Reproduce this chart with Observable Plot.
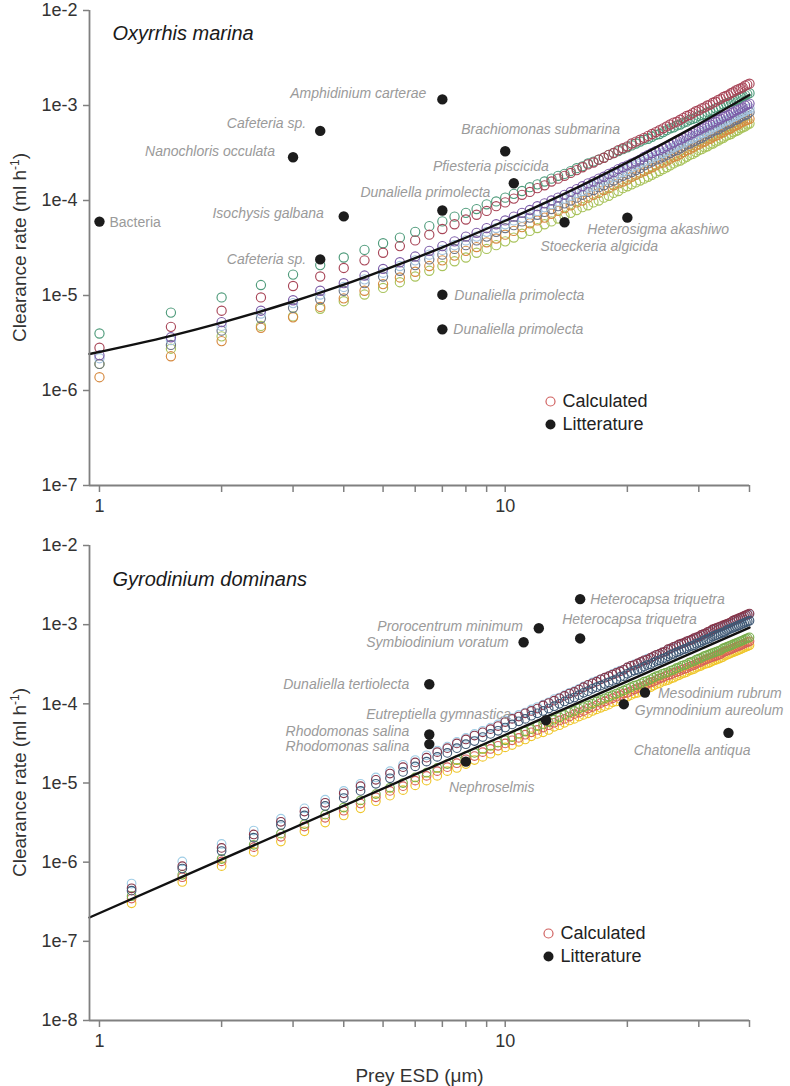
<!DOCTYPE html>
<html><head><meta charset="utf-8">
<script src="https://cdn.jsdelivr.net/npm/d3@7"></script>
<script src="https://cdn.jsdelivr.net/npm/@observablehq/plot@0.6"></script>
<style>
html,body{margin:0;padding:0;background:#fff;}
#chart{width:790px;}
#chart svg{display:block;}
</style></head><body><div id="chart"></div>
<script>
// ---------------- DATA ----------------
// Prey ESD (µm) grids of the calculated clearance rates
const xTop = [1,1.5,2,2.5,3,3.5,4,4.5,5,5.5,6,6.5,7,7.5,8,8.5,9,9.5,10,10.5,11,11.5,12,12.5,13,13.5,14,14.5,15,15.5,16,16.5,17,17.5,18,18.5,19,19.5,20,20.5,21,21.5,22,22.5,23,23.5,24,24.5,25,25.5,26,26.5,27,27.5,28,28.5,29,29.5,30,30.5,31,31.5,32,32.5,33,33.5,34,34.5,35,35.5,36,36.5,37,37.5,38,38.5,39,39.5,40];
const xBot = [1.2,1.6,2.0,2.4,2.8,3.2,3.6,4.0,4.4,4.8,5.2,5.6,6.0,6.4,6.8,7.2,7.6,8.0,8.4,8.8,9.2,9.6,10.0,10.4,10.8,11.2,11.6,12.0,12.4,12.8,13.2,13.6,14.0,14.4,14.8,15.2,15.6,16.0,16.4,16.8,17.2,17.6,18.0,18.4,18.8,19.2,19.6,20.0,20.4,20.8,21.2,21.6,22.0,22.4,22.8,23.2,23.6,24.0,24.4,24.8,25.2,25.6,26.0,26.4,26.8,27.2,27.6,28.0,28.4,28.8,29.2,29.6,30.0,30.4,30.8,31.2,31.6,32.0,32.4,32.8,33.2,33.6,34.0,34.4,34.8,35.2,35.6,36.0,36.4,36.8,37.2,37.6,38.0,38.4,38.8,39.2,39.6,40.0];

// Oxyrrhis marina – calculated clearance rates, log10(ml h-1)
const topLightGreen = [-5.72,-5.56,-5.43,-5.32,-5.22,-5.14,-5.06,-4.99,-4.92,-4.86,-4.80,-4.74,-4.69,-4.64,-4.60,-4.55,-4.51,-4.47,-4.43,-4.39,-4.35,-4.32,-4.29,-4.25,-4.22,-4.19,-4.16,-4.13,-4.10,-4.07,-4.05,-4.02,-4.00,-3.97,-3.95,-3.92,-3.90,-3.87,-3.85,-3.83,-3.81,-3.79,-3.77,-3.75,-3.73,-3.71,-3.69,-3.67,-3.65,-3.63,-3.61,-3.59,-3.58,-3.56,-3.54,-3.52,-3.51,-3.49,-3.47,-3.46,-3.44,-3.43,-3.41,-3.40,-3.38,-3.37,-3.35,-3.34,-3.32,-3.31,-3.30,-3.28,-3.27,-3.26,-3.24,-3.23,-3.22,-3.20,-3.19];
const topOrange = [-5.86,-5.64,-5.48,-5.34,-5.23,-5.12,-5.03,-4.95,-4.88,-4.81,-4.75,-4.69,-4.63,-4.58,-4.53,-4.49,-4.44,-4.40,-4.36,-4.32,-4.28,-4.24,-4.21,-4.18,-4.14,-4.11,-4.08,-4.05,-4.02,-4.00,-3.97,-3.94,-3.92,-3.89,-3.87,-3.84,-3.82,-3.80,-3.78,-3.75,-3.73,-3.71,-3.69,-3.67,-3.65,-3.63,-3.61,-3.60,-3.58,-3.56,-3.54,-3.53,-3.51,-3.49,-3.47,-3.46,-3.44,-3.42,-3.41,-3.39,-3.38,-3.36,-3.35,-3.33,-3.32,-3.31,-3.29,-3.28,-3.26,-3.25,-3.24,-3.22,-3.21,-3.20,-3.18,-3.17,-3.16,-3.15,-3.14];
const topGray = [-5.72,-5.52,-5.37,-5.24,-5.13,-5.04,-4.95,-4.87,-4.80,-4.74,-4.68,-4.62,-4.57,-4.51,-4.47,-4.42,-4.38,-4.33,-4.29,-4.26,-4.22,-4.18,-4.15,-4.12,-4.09,-4.06,-4.03,-4.00,-3.97,-3.94,-3.91,-3.89,-3.86,-3.84,-3.81,-3.79,-3.76,-3.74,-3.72,-3.70,-3.68,-3.66,-3.63,-3.61,-3.59,-3.57,-3.56,-3.54,-3.52,-3.50,-3.48,-3.47,-3.45,-3.43,-3.41,-3.40,-3.38,-3.37,-3.35,-3.34,-3.32,-3.30,-3.29,-3.27,-3.26,-3.25,-3.23,-3.22,-3.20,-3.19,-3.18,-3.16,-3.15,-3.14,-3.12,-3.11,-3.10,-3.09,-3.07];
const topLightBlue = [-5.66,-5.47,-5.32,-5.19,-5.08,-4.99,-4.91,-4.83,-4.76,-4.69,-4.63,-4.57,-4.52,-4.47,-4.42,-4.38,-4.33,-4.29,-4.25,-4.21,-4.18,-4.14,-4.11,-4.07,-4.04,-4.01,-3.98,-3.95,-3.92,-3.90,-3.87,-3.85,-3.82,-3.79,-3.77,-3.75,-3.72,-3.70,-3.68,-3.65,-3.63,-3.61,-3.59,-3.57,-3.55,-3.53,-3.52,-3.50,-3.48,-3.46,-3.44,-3.42,-3.41,-3.39,-3.37,-3.35,-3.34,-3.32,-3.31,-3.29,-3.28,-3.26,-3.25,-3.23,-3.22,-3.20,-3.19,-3.17,-3.16,-3.15,-3.13,-3.12,-3.11,-3.09,-3.08,-3.07,-3.06,-3.04,-3.03];
const topPurple = [-5.63,-5.44,-5.28,-5.16,-5.05,-4.95,-4.87,-4.79,-4.72,-4.65,-4.59,-4.53,-4.48,-4.43,-4.38,-4.34,-4.29,-4.25,-4.21,-4.17,-4.13,-4.10,-4.06,-4.03,-4.00,-3.97,-3.94,-3.91,-3.88,-3.85,-3.82,-3.80,-3.77,-3.75,-3.72,-3.70,-3.67,-3.65,-3.63,-3.61,-3.59,-3.57,-3.54,-3.52,-3.50,-3.48,-3.47,-3.45,-3.43,-3.41,-3.39,-3.37,-3.36,-3.34,-3.32,-3.31,-3.29,-3.27,-3.26,-3.24,-3.23,-3.21,-3.20,-3.18,-3.17,-3.15,-3.14,-3.12,-3.11,-3.10,-3.08,-3.07,-3.05,-3.04,-3.03,-3.02,-3.00,-2.99,-2.98];
const topGreen = [-5.40,-5.18,-5.02,-4.89,-4.78,-4.68,-4.60,-4.52,-4.45,-4.39,-4.33,-4.27,-4.22,-4.17,-4.13,-4.09,-4.04,-4.01,-3.97,-3.93,-3.90,-3.86,-3.83,-3.80,-3.77,-3.74,-3.72,-3.69,-3.66,-3.64,-3.61,-3.59,-3.57,-3.55,-3.52,-3.50,-3.48,-3.46,-3.44,-3.42,-3.40,-3.38,-3.36,-3.35,-3.33,-3.31,-3.30,-3.28,-3.26,-3.24,-3.23,-3.21,-3.20,-3.18,-3.17,-3.15,-3.14,-3.13,-3.11,-3.10,-3.09,-3.07,-3.06,-3.05,-3.03,-3.02,-3.01,-2.99,-2.98,-2.97,-2.96,-2.95,-2.94,-2.93,-2.91,-2.90,-2.89,-2.88,-2.87];
const topRed = [-5.55,-5.33,-5.16,-5.02,-4.90,-4.80,-4.71,-4.63,-4.55,-4.48,-4.42,-4.36,-4.30,-4.25,-4.20,-4.15,-4.11,-4.06,-4.02,-3.98,-3.94,-3.91,-3.87,-3.84,-3.80,-3.77,-3.74,-3.71,-3.68,-3.65,-3.62,-3.60,-3.57,-3.55,-3.52,-3.50,-3.47,-3.45,-3.43,-3.40,-3.38,-3.36,-3.34,-3.32,-3.30,-3.28,-3.26,-3.24,-3.22,-3.20,-3.18,-3.17,-3.15,-3.13,-3.11,-3.10,-3.08,-3.06,-3.05,-3.03,-3.02,-3.00,-2.99,-2.97,-2.96,-2.94,-2.93,-2.91,-2.90,-2.89,-2.87,-2.86,-2.84,-2.83,-2.82,-2.81,-2.79,-2.78,-2.77];

// Gyrodinium dominans – calculated clearance rates, log10(ml h-1)
const botYellow = [-6.52,-6.25,-6.05,-5.87,-5.74,-5.61,-5.50,-5.41,-5.32,-5.23,-5.16,-5.09,-5.03,-4.97,-4.91,-4.85,-4.81,-4.76,-4.71,-4.67,-4.63,-4.59,-4.55,-4.52,-4.48,-4.45,-4.41,-4.38,-4.36,-4.33,-4.29,-4.27,-4.24,-4.21,-4.19,-4.16,-4.14,-4.12,-4.09,-4.07,-4.05,-4.03,-4.01,-3.98,-3.97,-3.94,-3.93,-3.91,-3.89,-3.87,-3.86,-3.84,-3.82,-3.80,-3.79,-3.77,-3.75,-3.74,-3.72,-3.71,-3.70,-3.68,-3.67,-3.65,-3.64,-3.62,-3.61,-3.60,-3.58,-3.57,-3.56,-3.54,-3.53,-3.52,-3.50,-3.495,-3.487,-3.476,-3.46,-3.45,-3.44,-3.43,-3.42,-3.41,-3.39,-3.38,-3.37,-3.36,-3.35,-3.34,-3.33,-3.32,-3.31,-3.30,-3.29,-3.28,-3.27,-3.26];
const botRed = [-6.46,-6.19,-5.99,-5.81,-5.68,-5.55,-5.44,-5.35,-5.26,-5.18,-5.10,-5.04,-4.97,-4.91,-4.85,-4.80,-4.75,-4.70,-4.66,-4.61,-4.57,-4.53,-4.50,-4.46,-4.43,-4.39,-4.36,-4.33,-4.30,-4.27,-4.24,-4.21,-4.19,-4.16,-4.13,-4.11,-4.09,-4.06,-4.04,-4.02,-3.99,-3.97,-3.95,-3.93,-3.91,-3.89,-3.87,-3.86,-3.84,-3.82,-3.80,-3.79,-3.77,-3.75,-3.73,-3.72,-3.70,-3.68,-3.67,-3.65,-3.64,-3.63,-3.61,-3.60,-3.59,-3.57,-3.56,-3.55,-3.53,-3.52,-3.51,-3.49,-3.48,-3.47,-3.45,-3.44,-3.43,-3.42,-3.41,-3.40,-3.39,-3.38,-3.37,-3.35,-3.34,-3.33,-3.32,-3.31,-3.30,-3.29,-3.28,-3.27,-3.26,-3.25,-3.24,-3.23,-3.22,-3.21];
const botGreen = [-6.43,-6.16,-5.96,-5.78,-5.64,-5.52,-5.40,-5.31,-5.22,-5.14,-5.06,-5.00,-4.93,-4.87,-4.81,-4.76,-4.71,-4.66,-4.62,-4.57,-4.53,-4.49,-4.46,-4.42,-4.38,-4.35,-4.32,-4.28,-4.26,-4.23,-4.20,-4.17,-4.14,-4.11,-4.09,-4.06,-4.04,-4.02,-4.00,-3.97,-3.95,-3.93,-3.91,-3.89,-3.87,-3.85,-3.83,-3.81,-3.79,-3.77,-3.76,-3.74,-3.72,-3.71,-3.69,-3.67,-3.65,-3.64,-3.62,-3.61,-3.60,-3.58,-3.57,-3.55,-3.54,-3.52,-3.51,-3.50,-3.48,-3.47,-3.46,-3.44,-3.43,-3.42,-3.40,-3.39,-3.38,-3.37,-3.36,-3.35,-3.34,-3.33,-3.32,-3.30,-3.29,-3.28,-3.27,-3.26,-3.25,-3.24,-3.23,-3.22,-3.21,-3.20,-3.19,-3.18,-3.17,-3.16];
const botLightBlue = [-6.27,-5.99,-5.77,-5.60,-5.45,-5.32,-5.21,-5.10,-5.01,-4.93,-4.85,-4.77,-4.71,-4.65,-4.59,-4.54,-4.48,-4.43,-4.38,-4.34,-4.30,-4.26,-4.21,-4.18,-4.14,-4.11,-4.07,-4.04,-4.01,-3.98,-3.94,-3.92,-3.89,-3.86,-3.84,-3.81,-3.78,-3.76,-3.73,-3.71,-3.69,-3.67,-3.65,-3.62,-3.60,-3.58,-3.57,-3.54,-3.52,-3.50,-3.49,-3.47,-3.45,-3.43,-3.42,-3.40,-3.38,-3.37,-3.35,-3.34,-3.32,-3.30,-3.29,-3.27,-3.26,-3.24,-3.23,-3.22,-3.20,-3.19,-3.18,-3.17,-3.15,-3.14,-3.12,-3.11,-3.10,-3.09,-3.07,-3.06,-3.05,-3.04,-3.03,-3.02,-3.01,-3.00,-2.99,-2.98,-2.96,-2.95,-2.94,-2.93,-2.92,-2.91,-2.90,-2.89,-2.88,-2.87];
const botMaroon = [-6.33,-6.05,-5.82,-5.65,-5.49,-5.36,-5.25,-5.13,-5.04,-4.96,-4.88,-4.80,-4.74,-4.68,-4.61,-4.56,-4.50,-4.45,-4.40,-4.36,-4.32,-4.28,-4.23,-4.19,-4.16,-4.12,-4.09,-4.06,-4.02,-3.99,-3.96,-3.93,-3.90,-3.87,-3.85,-3.82,-3.79,-3.76,-3.74,-3.72,-3.69,-3.67,-3.65,-3.63,-3.61,-3.59,-3.57,-3.54,-3.52,-3.51,-3.49,-3.47,-3.45,-3.44,-3.42,-3.40,-3.38,-3.37,-3.35,-3.34,-3.31,-3.30,-3.28,-3.27,-3.25,-3.24,-3.23,-3.21,-3.20,-3.19,-3.17,-3.16,-3.15,-3.13,-3.12,-3.11,-3.09,-3.08,-3.06,-3.05,-3.04,-3.03,-3.02,-3.01,-3.00,-2.99,-2.98,-2.97,-2.95,-2.94,-2.93,-2.92,-2.91,-2.90,-2.89,-2.88,-2.87,-2.86];
const botSlate = [-6.36,-6.08,-5.86,-5.69,-5.53,-5.41,-5.29,-5.19,-5.10,-5.01,-4.94,-4.86,-4.79,-4.73,-4.67,-4.62,-4.56,-4.51,-4.47,-4.42,-4.38,-4.34,-4.30,-4.26,-4.22,-4.19,-4.15,-4.12,-4.09,-4.06,-4.03,-4.00,-3.97,-3.94,-3.92,-3.89,-3.86,-3.84,-3.81,-3.79,-3.77,-3.75,-3.73,-3.71,-3.69,-3.66,-3.65,-3.62,-3.60,-3.58,-3.57,-3.55,-3.53,-3.51,-3.50,-3.48,-3.46,-3.45,-3.43,-3.42,-3.40,-3.38,-3.37,-3.35,-3.34,-3.32,-3.31,-3.30,-3.28,-3.27,-3.26,-3.24,-3.23,-3.22,-3.20,-3.19,-3.18,-3.17,-3.15,-3.14,-3.13,-3.12,-3.11,-3.10,-3.09,-3.07,-3.06,-3.05,-3.04,-3.03,-3.02,-3.01,-3.00,-2.99,-2.98,-2.97,-2.96,-2.95];

// Fitted lines (clearance rate, ml h-1)
const topFitX = [0.945,1.5,2,3,4,5,7,10,15,20,30,40];
const topFitY = [2.42e-6,3.76e-6,5.18e-6,8.65e-6,1.30e-5,1.84e-5,3.21e-5,6.12e-5,1.36e-4,2.52e-4,6.37e-4,1.29e-3];
const botFitX = [0.945,40];
const botFitY = [2.0e-7,9.2e-4];

// Literature values
const topLitNames = ["Bacteria","Amphidinium carterae","Cafeteria sp.","Nanochloris occulata","Brachiomonas submarina","Pfiesteria piscicida","Dunaliella primolecta","Isochysis galbana","Heterosigma akashiwo","Stoeckeria algicida","Cafeteria sp.","Dunaliella primolecta","Dunaliella primolecta"];
const topLitX = [1.0,7.0,3.5,3.0,10.0,10.5,7.0,4.0,20.0,14.0,3.5,7.0,7.0];
const topLitY = [6.0e-5,1.16e-3,5.4e-4,2.85e-4,3.3e-4,1.52e-4,7.85e-5,6.8e-5,6.6e-5,5.9e-5,2.4e-5,1.02e-5,4.4e-6];
const botLitNames = ["Heterocapsa triquetra","Heterocapsa triquetra","Prorocentrum minimum","Symbiodinium voratum","Dunaliella tertiolecta","Eutreptiella gymnastica","Rhodomonas salina","Rhodomonas salina","Nephroselmis","Mesodinium rubrum","Gymnodinium aureolum","Chatonella antiqua"];
const botLitX = [15.3,15.3,12.1,11.1,6.5,12.6,6.5,6.5,8.0,22.1,19.6,35.5];
const botLitY = [2.1e-3,6.7e-4,9.0e-4,6.0e-4,1.77e-4,6.2e-5,4.1e-5,3.1e-5,1.86e-5,1.39e-4,9.9e-5,4.3e-5];

// Tick values
const xTicks = [1,2,3,4,5,6,7,8,9,10,20,30,40];
const xTickLabels = [1,10];
const topYTicks = [1e-2,1e-3,1e-4,1e-5,1e-6,1e-7];
const botYTicks = [1e-2,1e-3,1e-4,1e-5,1e-6,1e-7,1e-8];

// ---------------- STYLE / LAYOUT ----------------
const FONT = "'Liberation Sans', Arial, Helvetica, sans-serif";
const AXIS_GRAY = "#808080";
const LABEL_GRAY = "#9a9a9a";
const topSeriesNames = ["s1","s2","s3","s4","s5","s6","s7"];
const topSeriesColors = ["#a9c35c","#d68a40","#6d7585","#a3c2de","#7c5ca8","#4f9b7b","#a84658"];
const botSeriesNames = ["b1","b2","b3","b4","b5","b6"];
const botSeriesColors = ["#efc62a","#d8605a","#79ae4c","#9fcde6","#86364a","#3f5874"];
// label placement: [textAnchor, dx, dy]
const topLabelLayout = [["start",10,1],["end",-16,-6],["end",-14,-7],["end",-18,-6],["start",-44,-22],["end",35,-17],["end",48,-18],["end",-20,-3],["start",-40,12],["start",-24,24],["end",-14,0],["start",12,1],["start",11,0]];
const botLabelLayout = [["start",10,0],["start",-18,-19],["end",-16,-2],["end",-15,0],["end",-20,0],["end",-35,-6],["end",-20,-3],["end",-20,2],["start",-17,26],["start",13,1],["start",11,6],["end",22,18]];

const xDomain = [0.945, 40];

function panel(o) {
  const calc = o.series.flatMap(([name, vals]) => vals.map((v, i) => ({series: name, x: o.xCalc[i], y: 10 ** v})));
  const fit = o.fitX.map((x, i) => ({x, y: o.fitY[i]}));
  const lit = o.litNames.map((name, i) => ({name, x: o.litX[i], y: o.litY[i]}));
  const marks = [
    Plot.dot(calc, {x: "x", y: "y", stroke: "series", fill: "none", r: o.r, strokeWidth: 1.15}),
    Plot.line(fit, {x: "x", y: "y", stroke: "#111", strokeWidth: 2.4, curve: "monotone-x"}),
    Plot.dot(lit, {x: "x", y: "y", fill: "#1c1c1c", r: 5.2}),
    ...lit.map((d, i) => Plot.text([d], {
      x: "x", y: "y", text: "name",
      textAnchor: o.layout[i][0], dx: o.layout[i][1], dy: o.layout[i][2],
      fill: LABEL_GRAY, fontSize: 14, fontStyle: d.name === "Bacteria" ? "normal" : "italic"
    })),
    Plot.ruleX([xDomain[0]], {stroke: AXIS_GRAY, strokeWidth: 1.8}),
    Plot.ruleY([o.yDomain[0]], {stroke: AXIS_GRAY, strokeWidth: 1.8}),
    Plot.axisX({ticks: xTicks, tickFormat: d => xTickLabels.includes(d) ? String(d) : "", tickSize: 7, tickPadding: 7,
      stroke: AXIS_GRAY, strokeWidth: 1.5, fill: "#333", fontSize: 18, label: null}),
    Plot.axisY({ticks: o.yTicks, tickFormat: d => "1e" + Math.round(Math.log10(d)), tickSize: 6, tickPadding: 6,
      stroke: AXIS_GRAY, strokeWidth: 1.5, fill: "#333", fontSize: 18, label: null}),
    Plot.text([o.title], {frameAnchor: "top-left", lineAnchor: "middle", text: d => d, dx: 23, dy: o.titleDy, textAnchor: "start",
      fontSize: 20, fontStyle: "italic", fill: "#1a1a1a"}),
    Plot.dot([0], {frameAnchor: "top-left", dx: o.legendDx, dy: o.legendDy, r: 4.5, stroke: "#d0605f", fill: "none", strokeWidth: 1.2}),
    Plot.dot([0], {frameAnchor: "top-left", dx: o.legendDx, dy: o.legendDy + 23, r: 5, fill: "#1c1c1c"}),
    Plot.text(["Calculated"], {frameAnchor: "top-left", lineAnchor: "middle", text: d => d, dx: o.legendDx + 12, dy: o.legendDy, textAnchor: "start", fontSize: 18, fill: "#222"}),
    Plot.text(["Litterature"], {frameAnchor: "top-left", lineAnchor: "middle", text: d => d, dx: o.legendDx + 12, dy: o.legendDy + 23, textAnchor: "start", fontSize: 18, fill: "#222"})
  ];
  if (o.xTitle) marks.push(Plot.text([o.xTitle], {frameAnchor: "bottom", lineAnchor: "middle", text: d => d, dy: 55, fontSize: 19, fill: "#333"}));
  const svg = Plot.plot({
    width: 790, height: o.height,
    marginLeft: 89, marginRight: 41, marginTop: o.marginTop, marginBottom: o.marginBottom,
    style: {fontFamily: FONT, background: "#fff", color: "#333", overflow: "visible"},
    x: {type: "log", domain: xDomain},
    y: {type: "log", domain: o.yDomain},
    color: {type: "ordinal", domain: o.colorDomain, range: o.colorRange},
    marks
  });
  // Y axis title with superscript
  const cy = (o.marginTop + o.height - o.marginBottom) / 2;
  const t = d3.select(svg).append("text")
    .attr("transform", `translate(26,${cy}) rotate(-90)`)
    .attr("text-anchor", "middle").attr("font-size", 19).attr("fill", "#333").attr("font-family", FONT);
  t.append("tspan").text("Clearance rate (ml h");
  t.append("tspan").attr("font-size", 12).attr("dy", -7).text("-1");
  t.append("tspan").attr("dy", 7).text(")");
  return svg;
}

const chart = document.getElementById("chart");
chart.appendChild(panel({
  height: 530, marginTop: 10, marginBottom: 45,
  yDomain: [1e-7, 1e-2], yTicks: topYTicks, xCalc: xTop,
  series: [["s1", topLightGreen],["s2", topOrange],["s3", topGray],["s4", topLightBlue],["s5", topPurple],["s6", topGreen],["s7", topRed]],
  colorDomain: topSeriesNames, colorRange: topSeriesColors, r: 4.6,
  fitX: topFitX, fitY: topFitY,
  litNames: topLitNames, litX: topLitX, litY: topLitY, layout: topLabelLayout,
  title: "Oxyrrhis marina", titleDy: 23, legendDx: 461, legendDy: 391
}));
chart.appendChild(panel({
  height: 556, marginTop: 15, marginBottom: 66,
  yDomain: [1e-8, 1e-2], yTicks: botYTicks, xCalc: xBot,
  series: [["b1", botYellow],["b2", botRed],["b3", botGreen],["b4", botLightBlue],["b5", botMaroon],["b6", botSlate]],
  colorDomain: botSeriesNames, colorRange: botSeriesColors, r: 4.3,
  fitX: botFitX, fitY: botFitY,
  litNames: botLitNames, litX: botLitX, litY: botLitY, layout: botLabelLayout,
  title: "Gyrodinium dominans", titleDy: 34, legendDx: 459, legendDy: 388,
  xTitle: "Prey ESD (μm)"
}));
</script>
</body></html>
